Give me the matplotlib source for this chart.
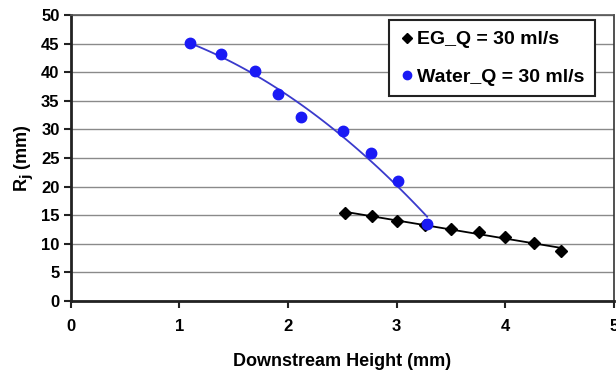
import numpy as np
import matplotlib
matplotlib.use("Agg")
import matplotlib.pyplot as plt

plt.rcParams['font.family'] = ['Liberation Sans', 'DejaVu Sans']
plt.rcParams['font.weight'] = 'bold'

# Jump radius vs. downstream height, Q = 30 ml/s
eg_height = [2.52, 2.77, 3.00, 3.26, 3.50, 3.76, 4.00, 4.26, 4.51]
eg_radius = [15.3, 14.9, 14.0, 13.3, 12.6, 12.1, 11.1, 10.1, 8.8]

water_height = [1.10, 1.38, 1.70, 1.91, 2.12, 2.51, 2.76, 3.01, 3.28]
water_radius = [45.1, 43.2, 40.2, 36.1, 32.1, 29.7, 25.8, 20.9, 13.4]

x_ticks = [0, 1, 2, 3, 4, 5]
y_ticks = [0, 5, 10, 15, 20, 25, 30, 35, 40, 45, 50]

fig = plt.figure(figsize=(6.16, 3.72), dpi=100)
ax = fig.add_axes([0.1148, 0.1909, 0.8820, 0.7688])

ax.set_xlim(0, 5)
ax.set_ylim(0, 50)
ax.set_xticks(x_ticks)
ax.set_yticks(y_ticks)

ax.yaxis.grid(True, color='#8a8a8a', linewidth=1.0)
ax.set_axisbelow(True)

# trendlines: linear for EG, quadratic for water
eg_fit = np.polyfit(eg_height, eg_radius, 1)
xe = np.linspace(min(eg_height), max(eg_height), 50)
ax.plot(xe, np.polyval(eg_fit, xe), color='black', linewidth=1.3, zorder=2)

w_fit = np.polyfit(water_height, water_radius, 2)
xw = np.linspace(min(water_height), max(water_height), 100)
ax.plot(xw, np.polyval(w_fit, xw), color='#3a3acc', linewidth=1.3, zorder=2)

ax.plot(eg_height, eg_radius, linestyle='none', marker='D', markersize=6.5,
        color='black', label='EG_Q = 30 ml/s', zorder=3)
ax.plot(water_height, water_radius, linestyle='none', marker='o', markersize=7.5,
        color='#1a1af5', label='Water_Q = 30 ml/s', zorder=3)

for side in ['left', 'bottom', 'top', 'right']:
    ax.spines[side].set_color('#222222')
ax.spines['left'].set_linewidth(2.0)
ax.spines['bottom'].set_linewidth(2.0)
ax.spines['top'].set_linewidth(1.2)
ax.spines['right'].set_linewidth(1.2)
ax.spines['top'].set_color('#555555')
ax.spines['right'].set_color('#333333')

ax.tick_params(axis='both', direction='out', length=5, width=1.5,
               color='#222222', labelsize=12, pad=3)
ax.tick_params(axis='x', pad=8)
for lbl in ax.get_xticklabels() + ax.get_yticklabels():
    lbl.set_fontweight('bold')

ax.set_xlabel('Downstream Height (mm)', fontsize=13, fontweight='bold', labelpad=14)
ax.set_ylabel(r'R$_\mathbf{j}$ (mm)', fontsize=13, fontweight='bold', labelpad=4)

leg = ax.legend(loc='upper right', bbox_to_anchor=(0.965, 0.982),
                prop={'weight': 'bold', 'size': 14}, frameon=True, fancybox=False,
                handletextpad=0.1, handlelength=0.8, borderpad=0.55,
                labelspacing=1.0, markerscale=0.8, borderaxespad=0)
leg.get_frame().set_edgecolor('#222222')
leg.get_frame().set_linewidth(1.5)
leg.get_frame().set_alpha(1)

fig.savefig('out.png', dpi=100)
